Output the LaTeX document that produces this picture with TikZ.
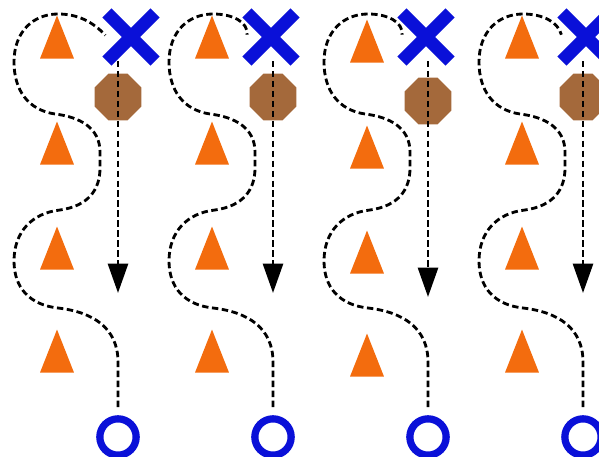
\documentclass[tikz,border=0pt]{standalone}
\usetikzlibrary{arrows.meta, shapes.geometric, shapes.misc}
\definecolor{corange}{HTML}{F36C0E}
\definecolor{cbrown}{HTML}{A4693B}
\definecolor{cblue}{HTML}{0A10D8}
\tikzset{
  conemark/.style={isosceles triangle, isosceles triangle stretches, shape border rotate=90, fill=corange, inner sep=0pt, minimum width=29pt, minimum height=36.7pt},
  stopsign/.style={regular polygon, regular polygon sides=8, fill=cbrown, inner sep=0pt, minimum size=43pt},
  crossmark/.style={cross out, draw=cblue, line width=11pt, inner sep=0pt, minimum size=30pt},
  goalring/.style={circle, draw=cblue, line width=6.2pt, inner sep=0pt, minimum size=31pt},
  route/.style={draw=black, line width=2.4pt, dash pattern=on 5.5pt off 3pt},
  arrow/.style={route, -{Triangle[length=25pt, width=17pt]}},
}
\begin{document}
\begin{tikzpicture}[x=0.03cm, y=-0.03cm]
  \useasboundingbox (0,0) rectangle (599,457);
  \foreach \p/\xo/\yo in {0/13/0, 1/-2/0, 2/-2/4, 3/3/0} {
    \begin{scope}[shift={(118+155*\p,0)}]
      \foreach \k/\y in {1/47, 2/153, 3/258, 4/361}
        \node[conemark] (cone\p\k) at (-61,\y+\yo) {};
      \node[stopsign] (stop\p) at (0,97+\yo) {};
      \node[goalring] (goal\p) at (0,437) {};
      \coordinate (tip\p) at (0,293+\yo);
      \node[crossmark] (cross\p) at (\xo,37) {};
      \draw[arrow] (tip\p |- cross\p.south) -- (tip\p);
      \draw[route, shorten <=7pt, shorten >=2pt] (goal\p.north) -- (0,362)
        .. controls (0,328) and (-25,312) .. (-60,308)
        .. controls (-88,305) and (-104,288) .. (-104,261)
        .. controls (-104,232) and (-86,213) .. (-58,210)
        .. controls (-30,206) and (-18,190) .. (-18,168) -- (-18,152)
        .. controls (-18,128) and (-38,117) .. (-63,114)
        .. controls (-90,110) and (-104,90) .. (-104,62)
        .. controls (-104,32) and (-85,14) .. (-60,14)
        .. controls (-40,14) and (-25,22) .. (cross\p.west);
    \end{scope}
  }
\end{tikzpicture}
\end{document}
